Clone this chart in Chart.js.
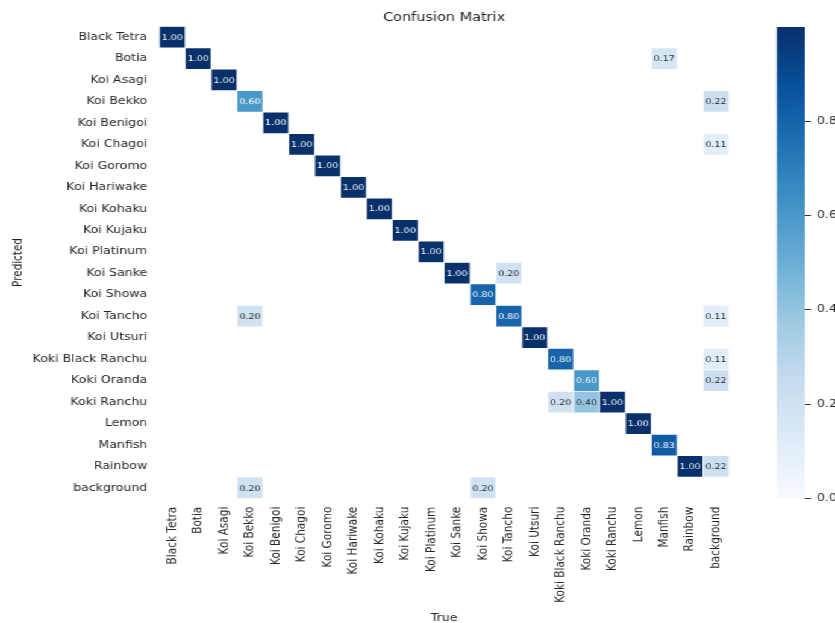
<!DOCTYPE html>
<html>
<head>
<meta charset="utf-8">
<title>Confusion Matrix</title>
<script src="https://cdn.jsdelivr.net/npm/chart.js@4.4.1/dist/chart.umd.min.js"></script>
<style>
  html, body { margin: 0; padding: 0; background: #ffffff; overflow: hidden; }
  #stage {
    position: relative;
    width: 693px;
    height: 623px;
    transform: scaleX(1.20491);
    transform-origin: 0 0;
  }
  #matrix { position: absolute; left: 0; top: 0; }
  #colorbar { position: absolute; left: 600px; top: 0; }
</style>
</head>
<body>
<div id="stage">
  <canvas id="matrix" width="693" height="623"></canvas>
  <canvas id="colorbar" width="93" height="623"></canvas>
</div>
<script>
// Class names, used for both the predicted (rows) and true (columns) axes
const classNames = [
  'Black Tetra', 'Botia', 'Koi Asagi', 'Koi Bekko', 'Koi Benigoi', 'Koi Chagoi',
  'Koi Goromo', 'Koi Hariwake', 'Koi Kohaku', 'Koi Kujaku', 'Koi Platinum',
  'Koi Sanke', 'Koi Showa', 'Koi Tancho', 'Koi Utsuri', 'Koki Black Ranchu',
  'Koki Oranda', 'Koki Ranchu', 'Lemon', 'Manfish', 'Rainbow', 'background'
];

// Non-zero cells of the normalised confusion matrix
// predictedRow[i], trueCol[i] index into classNames; cellValue[i] is the fraction
const predictedRow = [0, 1, 1, 2, 3, 3, 4, 5, 5, 6, 7, 8, 9, 10, 11, 11, 12,
                      13, 13, 13, 14, 15, 15, 16, 16, 17, 17, 17, 18, 19, 20, 20, 21, 21];
const trueCol      = [0, 1, 19, 2, 3, 21, 4, 5, 21, 6, 7, 8, 9, 10, 11, 13, 12,
                      3, 13, 21, 14, 15, 21, 16, 21, 15, 16, 17, 18, 19, 20, 21, 3, 12];
const cellValue    = [1.00, 1.00, 0.17, 1.00, 0.60, 0.22, 1.00, 1.00, 0.11, 1.00, 1.00, 1.00, 1.00, 1.00, 1.00, 0.20, 0.80,
                      0.20, 0.80, 0.11, 1.00, 0.80, 0.11, 0.60, 0.22, 0.20, 0.40, 1.00, 1.00, 0.83, 1.00, 0.22, 0.20, 0.20];

// Colour bar tick values
const colorbarTicks = [0.0, 0.2, 0.4, 0.6, 0.8];

// Sequential "Blues" colour map stops
const bluesStops = ['#f7fbff', '#deebf7', '#c6dbef', '#9ecae1', '#6baed6',
                    '#4292c6', '#2171b5', '#08519c', '#08306b'];

const FONT = 'DejaVu Sans, Liberation Sans, sans-serif';
const TEXT_DARK = '#262626';

function hexToRgb(h) {
  const n = parseInt(h.slice(1), 16);
  return [(n >> 16) & 255, (n >> 8) & 255, n & 255];
}
function blues(v) {
  const t = Math.max(0, Math.min(1, v)) * (bluesStops.length - 1);
  const i = Math.min(Math.floor(t), bluesStops.length - 2);
  const f = t - i;
  const a = hexToRgb(bluesStops[i]), b = hexToRgb(bluesStops[i + 1]);
  return a.map((c, k) => Math.round(c + (b[k] - c) * f));
}
function rgbStr(c) { return 'rgb(' + c.join(',') + ')'; }
function luminance(c) {
  const lin = c.map(x => {
    x /= 255;
    return x <= 0.03928 ? x / 12.92 : Math.pow((x + 0.055) / 1.055, 2.4);
  });
  return 0.2126 * lin[0] + 0.7152 * lin[1] + 0.0722 * lin[2];
}

// Each cell is a floating bar spanning one row on the (reversed) numeric y scale
const cells = cellValue.map((v, i) => ({
  x: classNames[trueCol[i]],
  y: [predictedRow[i] - 0.5, predictedRow[i] + 0.5],
  v: v
}));

// Writes the value inside each cell
const cellLabels = {
  id: 'cellLabels',
  afterDatasetsDraw(chart) {
    const ctx = chart.ctx;
    const meta = chart.getDatasetMeta(0);
    ctx.save();
    ctx.font = '7.9px ' + FONT;
    ctx.textAlign = 'center';
    ctx.textBaseline = 'middle';
    meta.data.forEach((el, i) => {
      const v = cells[i].v;
      const c = el.getCenterPoint();
      ctx.fillStyle = luminance(blues(v)) < 0.408 ? '#ffffff' : TEXT_DARK;
      ctx.fillText(v.toFixed(2), c.x, c.y + 0.5);
    });
    ctx.restore();
  }
};

new Chart(document.getElementById('matrix'), {
  type: 'bar',
  data: {
    labels: classNames,
    datasets: [{
      data: cells,
      backgroundColor: ctx => rgbStr(blues(ctx.raw ? ctx.raw.v : 0)),
      borderColor: 'rgba(255,255,255,0.85)',
      borderWidth: 0.7,
      borderSkipped: false,
      barPercentage: 1,
      categoryPercentage: 1
    }]
  },
  options: {
    responsive: false,
    devicePixelRatio: 1,
    animation: false,
    layout: { padding: { left: 0, right: 88, top: 0, bottom: 0 } },
    plugins: {
      legend: { display: false },
      tooltip: { enabled: false },
      title: { display: false }
    },
    scales: {
      // top axis only carries the heading, centred over the cell grid
      top: {
        type: 'category',
        position: 'top',
        offset: true,
        grid: { display: false, drawTicks: false },
        border: { display: false },
        ticks: { display: false },
        title: {
          display: true,
          text: 'Confusion Matrix',
          color: TEXT_DARK,
          font: { family: FONT, size: 12 },
          padding: { top: 10.6, bottom: 0 }
        },
        afterFit(axis) { axis.height = 26.3; }
      },
      x: {
        type: 'category',
        offset: true,
        grid: { display: false, drawTicks: false },
        border: { display: false },
        ticks: {
          autoSkip: false,
          minRotation: 90,
          maxRotation: 90,
          padding: 8,
          color: TEXT_DARK,
          font: { family: FONT, size: 10.5 }
        },
        title: {
          display: true,
          text: 'True',
          color: TEXT_DARK,
          font: { family: FONT, size: 10.4 },
          padding: { top: 0, bottom: -1.5 }
        },
        afterFit(axis) { axis.height = 124.3; }
      },
      y: {
        type: 'linear',
        reverse: true,
        min: -0.5,
        max: 21.5,
        grid: { display: false, drawTicks: false },
        border: { display: false },
        afterBuildTicks(axis) {
          axis.ticks = classNames.map((_, i) => ({ value: i }));
        },
        ticks: {
          autoSkip: false,
          padding: 10,
          color: TEXT_DARK,
          font: { family: FONT, size: 10.4 },
          callback: v => classNames[v]
        },
        title: {
          display: true,
          text: 'Predicted',
          color: TEXT_DARK,
          font: { family: FONT, size: 10.4 },
          padding: { top: 9, bottom: 0 }
        },
        afterFit(axis) { axis.width = 132.2; }
      }
    }
  },
  plugins: [cellLabels]
});

// Colour bar: one floating bar from 0 to 1 filled with the colour map gradient
new Chart(document.getElementById('colorbar'), {
  type: 'bar',
  data: {
    labels: ['scale'],
    datasets: [{
      data: [[0, 1]],
      backgroundColor: ctx => {
        const area = ctx.chart.chartArea;
        if (!area) return bluesStops[4];
        const g = ctx.chart.ctx.createLinearGradient(0, area.bottom, 0, area.top);
        bluesStops.forEach((c, i) => g.addColorStop(i / (bluesStops.length - 1), c));
        return g;
      },
      borderWidth: 0,
      barPercentage: 1,
      categoryPercentage: 1
    }]
  },
  options: {
    responsive: false,
    devicePixelRatio: 1,
    animation: false,
    layout: { padding: { left: 44.6, right: 0, top: 27, bottom: 124.7 } },
    plugins: {
      legend: { display: false },
      tooltip: { enabled: false },
      title: { display: false }
    },
    scales: {
      x: { display: false },
      y: {
        position: 'right',
        min: 0,
        max: 1,
        grid: {
          display: true,
          drawOnChartArea: false,
          drawTicks: true,
          tickLength: 5,
          color: '#333333',
          lineWidth: 1
        },
        border: { display: false },
        afterBuildTicks(axis) {
          axis.ticks = colorbarTicks.map(v => ({ value: v }));
        },
        ticks: {
          padding: 5,
          color: TEXT_DARK,
          font: { family: FONT, size: 10.4 },
          callback: v => Number(v).toFixed(1)
        },
        afterFit(axis) { axis.width = 25; }
      }
    }
  }
});
</script>
</body>
</html>
